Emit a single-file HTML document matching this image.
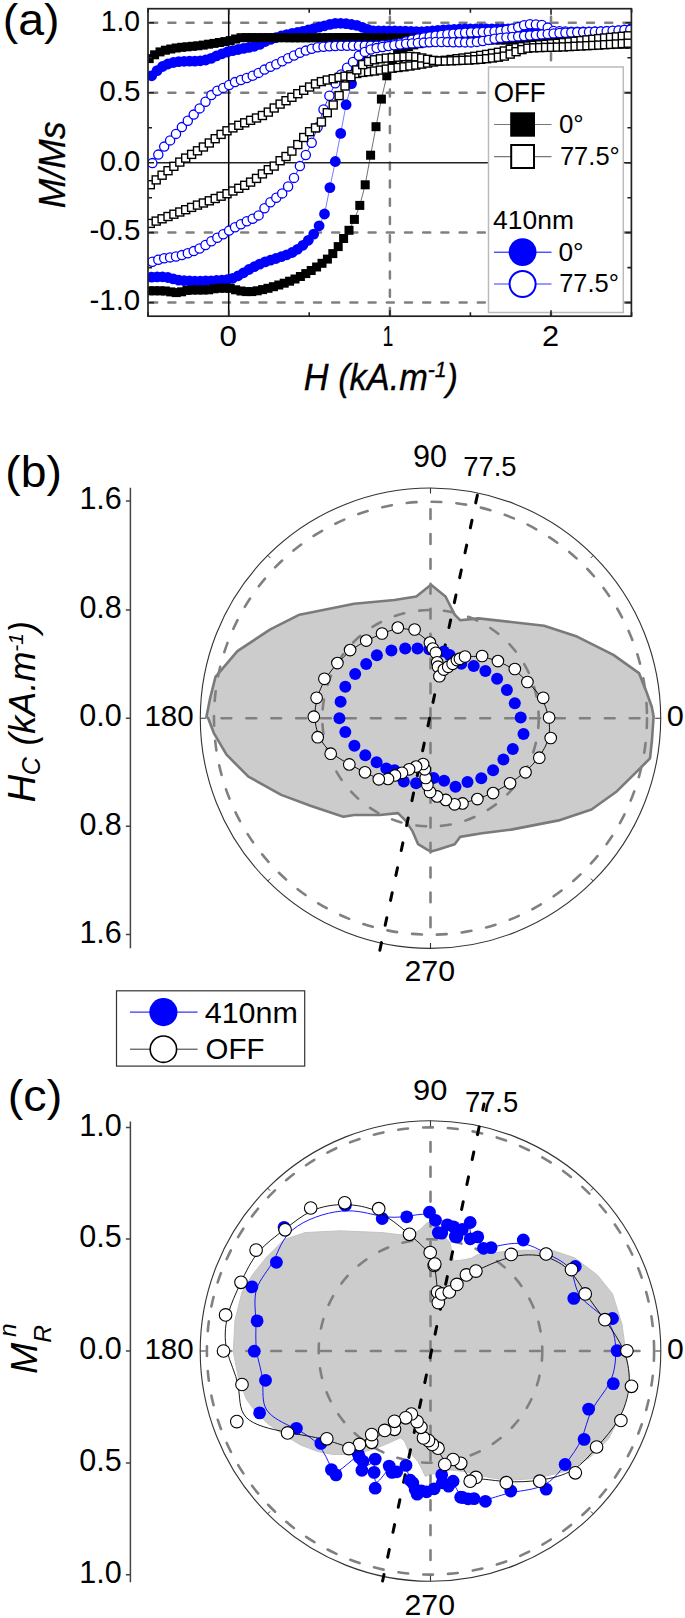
<!DOCTYPE html>
<html><head><meta charset="utf-8"><title>Figure</title>
<style>html,body{margin:0;padding:0;background:#fff;width:685px;height:1618px;overflow:hidden}svg{display:block}</style>
</head><body>
<svg width="685" height="1618" viewBox="0 0 685 1618">
<rect x="0" y="0" width="685" height="1618" fill="#fff"/>
<defs><clipPath id="ca"><rect x="148" y="8.7" width="483.4" height="307.5"/></clipPath></defs>
<g stroke="#808080" stroke-width="2.5" stroke-dasharray="7,11.2" stroke-linecap="round" fill="none">
<line x1="150.2" y1="22.8" x2="631.4" y2="22.8"/>
<line x1="150.2" y1="92.7" x2="631.4" y2="92.7"/>
<line x1="150.2" y1="232.6" x2="631.4" y2="232.6"/>
<line x1="150.2" y1="302.6" x2="631.4" y2="302.6"/>
<line x1="389.9" y1="315" x2="389.9" y2="8.7"/>
<line x1="551" y1="315" x2="551" y2="8.7"/>
</g>
<line x1="148" y1="162.7" x2="631.4" y2="162.7" stroke="#222" stroke-width="1.5"/>
<line x1="228.7" y1="8.7" x2="228.7" y2="316.2" stroke="#000" stroke-width="1.5"/>
<g clip-path="url(#ca)">
<polyline points="151.7,75.8 157.1,70.6 162.5,66.5 167.9,64 173.3,62.5 178.7,61.6 184.1,61.3 189.5,61.2 194.9,61.1 200.3,60.8 205.7,60 211.1,58.4 216.5,55.9 221.9,53.8 227.3,52 232.7,50.6 238.1,49.5 243.5,48.4 248.9,47.4 254.3,46.3 259.7,44.4 265.1,41.5 270.5,39.4 275.9,37.6 281.3,36 286.7,34.6 292.1,33.5 297.5,32.5 302.9,31.3 308.3,30 313.7,28.6 319.1,27.2 324.5,25.8 329.9,24.4 335.3,23.4 340.7,23.3 346.1,23.7 351.5,24.5 356.9,25.4 362.3,27.3 367.7,29.4 373.1,30.9 378.5,31 383.9,31 389.3,31 394.7,31 400.1,31.1 405.5,31.2 410.9,31.4 416.3,31.7 421.7,31.9 427.1,32 432.5,32 437.9,32 443.3,32 448.7,32 454.1,32 459.5,32 464.9,32 470.3,32 475.7,31.9 481.1,31.8 486.5,31.6 491.9,31.4 497.3,31.2 502.7,31.1 508.1,31 513.5,31 518.9,31.2 524.3,31.6 529.7,32 535.1,32.6 540.5,33.1 545.9,33.6 551.3,34.1 556.7,34.6 562.1,35.1 567.5,35.7 572.9,36.2 578.3,36.8 583.7,37.4 589.1,37.9 594.5,38.4 599.9,39 605.3,39.5 610.7,40 616.1,40.5 621.5,41.1 626.9,41.6" fill="none" stroke="#4040ff" stroke-width="0.7" />
<polyline points="151.7,277.2 157.1,276.9 162.5,276.8 167.9,277.5 173.3,278.9 178.7,280.2 184.1,280.6 189.5,281 194.9,281.2 200.3,281.2 205.7,281 211.1,280.8 216.5,280.5 221.9,280.2 227.3,279.6 232.7,278.3 238.1,275.8 243.5,272.8 248.9,269.5 254.3,266.7 259.7,264.1 265.1,261.9 270.5,260.2 275.9,258.5 281.3,256.7 286.7,254.8 292.1,252.5 297.5,249.3 302.9,245.3 308.3,240.3 313.7,234.1 319.1,225.8 324.5,214 329.9,187.6 335.3,161.5 340.7,133.4 346.1,104.7 351.5,83.6 356.9,66.2 362.3,56.3 367.7,49.7 373.1,45.3 378.5,42.5 383.9,40.4 389.3,38.6 394.7,37.2 400.1,36 405.5,34.9 410.9,33.8 416.3,32.8 421.7,31.9 427.1,31.3 432.5,30.8 437.9,30.4 443.3,30 448.7,29.7 454.1,29.4 459.5,29.2 464.9,29 470.3,29 475.7,29 481.1,29 486.5,29 491.9,29 497.3,29 502.7,29 508.1,29 513.5,29.1 518.9,29.5 524.3,30.1 529.7,30.9 535.1,31.7 540.5,32.6 545.9,33.5 551.3,34.2 556.7,34.8 562.1,35.4 567.5,36.1 572.9,36.7 578.3,37.3 583.7,37.9 589.1,38.4 594.5,38.9 599.9,39.4 605.3,39.9 610.7,40.4 616.1,40.8 621.5,41.3 626.9,41.7" fill="none" stroke="#4040ff" stroke-width="0.7" />
<g fill="#0000ff"><circle cx="151.7" cy="75.8" r="5.4"/><circle cx="157.1" cy="70.6" r="5.4"/><circle cx="162.5" cy="66.5" r="5.4"/><circle cx="167.9" cy="64" r="5.4"/><circle cx="173.3" cy="62.5" r="5.4"/><circle cx="178.7" cy="61.6" r="5.4"/><circle cx="184.1" cy="61.3" r="5.4"/><circle cx="189.5" cy="61.2" r="5.4"/><circle cx="194.9" cy="61.1" r="5.4"/><circle cx="200.3" cy="60.8" r="5.4"/><circle cx="205.7" cy="60" r="5.4"/><circle cx="211.1" cy="58.4" r="5.4"/><circle cx="216.5" cy="55.9" r="5.4"/><circle cx="221.9" cy="53.8" r="5.4"/><circle cx="227.3" cy="52" r="5.4"/><circle cx="232.7" cy="50.6" r="5.4"/><circle cx="238.1" cy="49.5" r="5.4"/><circle cx="243.5" cy="48.4" r="5.4"/><circle cx="248.9" cy="47.4" r="5.4"/><circle cx="254.3" cy="46.3" r="5.4"/><circle cx="259.7" cy="44.4" r="5.4"/><circle cx="265.1" cy="41.5" r="5.4"/><circle cx="270.5" cy="39.4" r="5.4"/><circle cx="275.9" cy="37.6" r="5.4"/><circle cx="281.3" cy="36" r="5.4"/><circle cx="286.7" cy="34.6" r="5.4"/><circle cx="292.1" cy="33.5" r="5.4"/><circle cx="297.5" cy="32.5" r="5.4"/><circle cx="302.9" cy="31.3" r="5.4"/><circle cx="308.3" cy="30" r="5.4"/><circle cx="313.7" cy="28.6" r="5.4"/><circle cx="319.1" cy="27.2" r="5.4"/><circle cx="324.5" cy="25.8" r="5.4"/><circle cx="329.9" cy="24.4" r="5.4"/><circle cx="335.3" cy="23.4" r="5.4"/><circle cx="340.7" cy="23.3" r="5.4"/><circle cx="346.1" cy="23.7" r="5.4"/><circle cx="351.5" cy="24.5" r="5.4"/><circle cx="356.9" cy="25.4" r="5.4"/><circle cx="362.3" cy="27.3" r="5.4"/><circle cx="367.7" cy="29.4" r="5.4"/><circle cx="373.1" cy="30.9" r="5.4"/><circle cx="378.5" cy="31" r="5.4"/><circle cx="383.9" cy="31" r="5.4"/><circle cx="389.3" cy="31" r="5.4"/><circle cx="394.7" cy="31" r="5.4"/><circle cx="400.1" cy="31.1" r="5.4"/><circle cx="405.5" cy="31.2" r="5.4"/><circle cx="410.9" cy="31.4" r="5.4"/><circle cx="416.3" cy="31.7" r="5.4"/><circle cx="421.7" cy="31.9" r="5.4"/><circle cx="427.1" cy="32" r="5.4"/><circle cx="432.5" cy="32" r="5.4"/><circle cx="437.9" cy="32" r="5.4"/><circle cx="443.3" cy="32" r="5.4"/><circle cx="448.7" cy="32" r="5.4"/><circle cx="454.1" cy="32" r="5.4"/><circle cx="459.5" cy="32" r="5.4"/><circle cx="464.9" cy="32" r="5.4"/><circle cx="470.3" cy="32" r="5.4"/><circle cx="475.7" cy="31.9" r="5.4"/><circle cx="481.1" cy="31.8" r="5.4"/><circle cx="486.5" cy="31.6" r="5.4"/><circle cx="491.9" cy="31.4" r="5.4"/><circle cx="497.3" cy="31.2" r="5.4"/><circle cx="502.7" cy="31.1" r="5.4"/><circle cx="508.1" cy="31" r="5.4"/><circle cx="513.5" cy="31" r="5.4"/><circle cx="518.9" cy="31.2" r="5.4"/><circle cx="524.3" cy="31.6" r="5.4"/><circle cx="529.7" cy="32" r="5.4"/><circle cx="535.1" cy="32.6" r="5.4"/><circle cx="540.5" cy="33.1" r="5.4"/><circle cx="545.9" cy="33.6" r="5.4"/><circle cx="551.3" cy="34.1" r="5.4"/><circle cx="556.7" cy="34.6" r="5.4"/><circle cx="562.1" cy="35.1" r="5.4"/><circle cx="567.5" cy="35.7" r="5.4"/><circle cx="572.9" cy="36.2" r="5.4"/><circle cx="578.3" cy="36.8" r="5.4"/><circle cx="583.7" cy="37.4" r="5.4"/><circle cx="589.1" cy="37.9" r="5.4"/><circle cx="594.5" cy="38.4" r="5.4"/><circle cx="599.9" cy="39" r="5.4"/><circle cx="605.3" cy="39.5" r="5.4"/><circle cx="610.7" cy="40" r="5.4"/><circle cx="616.1" cy="40.5" r="5.4"/><circle cx="621.5" cy="41.1" r="5.4"/><circle cx="626.9" cy="41.6" r="5.4"/><circle cx="151.7" cy="277.2" r="5.4"/><circle cx="157.1" cy="276.9" r="5.4"/><circle cx="162.5" cy="276.8" r="5.4"/><circle cx="167.9" cy="277.5" r="5.4"/><circle cx="173.3" cy="278.9" r="5.4"/><circle cx="178.7" cy="280.2" r="5.4"/><circle cx="184.1" cy="280.6" r="5.4"/><circle cx="189.5" cy="281" r="5.4"/><circle cx="194.9" cy="281.2" r="5.4"/><circle cx="200.3" cy="281.2" r="5.4"/><circle cx="205.7" cy="281" r="5.4"/><circle cx="211.1" cy="280.8" r="5.4"/><circle cx="216.5" cy="280.5" r="5.4"/><circle cx="221.9" cy="280.2" r="5.4"/><circle cx="227.3" cy="279.6" r="5.4"/><circle cx="232.7" cy="278.3" r="5.4"/><circle cx="238.1" cy="275.8" r="5.4"/><circle cx="243.5" cy="272.8" r="5.4"/><circle cx="248.9" cy="269.5" r="5.4"/><circle cx="254.3" cy="266.7" r="5.4"/><circle cx="259.7" cy="264.1" r="5.4"/><circle cx="265.1" cy="261.9" r="5.4"/><circle cx="270.5" cy="260.2" r="5.4"/><circle cx="275.9" cy="258.5" r="5.4"/><circle cx="281.3" cy="256.7" r="5.4"/><circle cx="286.7" cy="254.8" r="5.4"/><circle cx="292.1" cy="252.5" r="5.4"/><circle cx="297.5" cy="249.3" r="5.4"/><circle cx="302.9" cy="245.3" r="5.4"/><circle cx="308.3" cy="240.3" r="5.4"/><circle cx="313.7" cy="234.1" r="5.4"/><circle cx="319.1" cy="225.8" r="5.4"/><circle cx="324.5" cy="214" r="5.4"/><circle cx="329.9" cy="187.6" r="5.4"/><circle cx="335.3" cy="161.5" r="5.4"/><circle cx="340.7" cy="133.4" r="5.4"/><circle cx="346.1" cy="104.7" r="5.4"/><circle cx="351.5" cy="83.6" r="5.4"/><circle cx="356.9" cy="66.2" r="5.4"/><circle cx="362.3" cy="56.3" r="5.4"/><circle cx="367.7" cy="49.7" r="5.4"/><circle cx="373.1" cy="45.3" r="5.4"/><circle cx="378.5" cy="42.5" r="5.4"/><circle cx="383.9" cy="40.4" r="5.4"/><circle cx="389.3" cy="38.6" r="5.4"/><circle cx="394.7" cy="37.2" r="5.4"/><circle cx="400.1" cy="36" r="5.4"/><circle cx="405.5" cy="34.9" r="5.4"/><circle cx="410.9" cy="33.8" r="5.4"/><circle cx="416.3" cy="32.8" r="5.4"/><circle cx="421.7" cy="31.9" r="5.4"/><circle cx="427.1" cy="31.3" r="5.4"/><circle cx="432.5" cy="30.8" r="5.4"/><circle cx="437.9" cy="30.4" r="5.4"/><circle cx="443.3" cy="30" r="5.4"/><circle cx="448.7" cy="29.7" r="5.4"/><circle cx="454.1" cy="29.4" r="5.4"/><circle cx="459.5" cy="29.2" r="5.4"/><circle cx="464.9" cy="29" r="5.4"/><circle cx="470.3" cy="29" r="5.4"/><circle cx="475.7" cy="29" r="5.4"/><circle cx="481.1" cy="29" r="5.4"/><circle cx="486.5" cy="29" r="5.4"/><circle cx="491.9" cy="29" r="5.4"/><circle cx="497.3" cy="29" r="5.4"/><circle cx="502.7" cy="29" r="5.4"/><circle cx="508.1" cy="29" r="5.4"/><circle cx="513.5" cy="29.1" r="5.4"/><circle cx="518.9" cy="29.5" r="5.4"/><circle cx="524.3" cy="30.1" r="5.4"/><circle cx="529.7" cy="30.9" r="5.4"/><circle cx="535.1" cy="31.7" r="5.4"/><circle cx="540.5" cy="32.6" r="5.4"/><circle cx="545.9" cy="33.5" r="5.4"/><circle cx="551.3" cy="34.2" r="5.4"/><circle cx="556.7" cy="34.8" r="5.4"/><circle cx="562.1" cy="35.4" r="5.4"/><circle cx="567.5" cy="36.1" r="5.4"/><circle cx="572.9" cy="36.7" r="5.4"/><circle cx="578.3" cy="37.3" r="5.4"/><circle cx="583.7" cy="37.9" r="5.4"/><circle cx="589.1" cy="38.4" r="5.4"/><circle cx="594.5" cy="38.9" r="5.4"/><circle cx="599.9" cy="39.4" r="5.4"/><circle cx="605.3" cy="39.9" r="5.4"/><circle cx="610.7" cy="40.4" r="5.4"/><circle cx="616.1" cy="40.8" r="5.4"/><circle cx="621.5" cy="41.3" r="5.4"/><circle cx="626.9" cy="41.7" r="5.4"/></g>
<polyline points="149.2,58.6 154.6,54.8 160,51.9 165.4,50.2 170.8,49 176.2,48 181.6,47.3 187,46.8 192.4,46.3 197.8,45.8 203.2,45.1 208.6,44.2 214,43.4 219.4,42.5 224.8,41.6 230.2,40.6 235.6,39 241,37.7 246.4,37.6 251.8,37.6 257.2,37.6 262.6,37.6 268,37.6 273.4,37.7 278.8,37.7 284.2,37.7 289.6,37.8 295,37.8 300.4,37.8 305.8,37.8 311.2,37.8 316.6,37.7 322,37.7 327.4,37.6 332.8,37.6 338.2,37.5 343.6,37.5 349,37.5 354.4,37.5 359.8,37.6 365.2,37.6 370.6,37.7 376,37.8 381.4,37.8 386.8,37.9 392.2,38 397.6,38 403,38 408.4,38 413.8,38 419.2,38 424.6,38 430,38 435.4,38 440.8,38 446.2,38 451.6,38 457,38 462.4,38 467.8,38 473.2,38 478.6,38 484,38 489.4,38 494.8,38 500.2,38 505.6,38 511,38.2 516.4,38.3 521.8,38.6 527.2,38.8 532.6,39.1 538,39.4 543.4,39.7 548.8,39.9 554.2,40.2 559.6,40.5 565,40.9 570.4,41.2 575.8,41.6 581.2,42 586.6,42.3 592,42.6 597.4,42.9 602.8,43.1 608.2,43.3 613.6,43.5 619,43.7 624.4,43.8 629.8,44" fill="none" stroke="#333" stroke-width="0.7" />
<polyline points="149.2,290.8 154.6,290.8 160,290.8 165.4,291 170.8,291.9 176.2,292.6 181.6,291.8 187,290.4 192.4,290 197.8,290 203.2,290 208.6,289.8 214,288.8 219.4,288.2 224.8,288.2 230.2,288.3 235.6,289.8 241,291 246.4,291.6 251.8,291.6 257.2,290.8 262.6,289.6 268,288.3 273.4,286.7 278.8,285 284.2,283.2 289.6,281.2 295,279 300.4,276.5 305.8,273.6 311.2,270.5 316.6,267 322,263.3 327.4,259.1 332.8,253.6 338.2,246.6 343.6,238.5 349,230.3 354.4,219.4 359.8,205.4 365.2,184.8 370.6,155.2 376,126.7 381.4,99.1 386.8,75.8 392.2,59.6 397.6,52.3 403,48.8 408.4,46.5 413.8,44.9 419.2,43.7 424.6,42.7 430,42 435.4,41.5 440.8,41 446.2,40.5 451.6,40.2 457,40 462.4,40 467.8,40 473.2,40 478.6,40 484,40 489.4,40 494.8,40 500.2,40 505.6,40 511,40.1 516.4,40.1 521.8,40.3 527.2,40.4 532.6,40.5 538,40.7 543.4,40.8 548.8,41 554.2,41.1 559.6,41.4 565,41.7 570.4,42 575.8,42.3 581.2,42.7 586.6,43 592,43.2 597.4,43.4 602.8,43.6 608.2,43.7 613.6,43.8 619,43.9 624.4,44 629.8,44" fill="none" stroke="#333" stroke-width="0.7" />
<g fill="#000"><rect x="144.7" y="54.1" width="9" height="9"/><rect x="150.1" y="50.3" width="9" height="9"/><rect x="155.5" y="47.4" width="9" height="9"/><rect x="160.9" y="45.7" width="9" height="9"/><rect x="166.3" y="44.5" width="9" height="9"/><rect x="171.7" y="43.5" width="9" height="9"/><rect x="177.1" y="42.8" width="9" height="9"/><rect x="182.5" y="42.3" width="9" height="9"/><rect x="187.9" y="41.8" width="9" height="9"/><rect x="193.3" y="41.3" width="9" height="9"/><rect x="198.7" y="40.6" width="9" height="9"/><rect x="204.1" y="39.7" width="9" height="9"/><rect x="209.5" y="38.9" width="9" height="9"/><rect x="214.9" y="38" width="9" height="9"/><rect x="220.3" y="37.1" width="9" height="9"/><rect x="225.7" y="36.1" width="9" height="9"/><rect x="231.1" y="34.5" width="9" height="9"/><rect x="236.5" y="33.2" width="9" height="9"/><rect x="241.9" y="33.1" width="9" height="9"/><rect x="247.3" y="33.1" width="9" height="9"/><rect x="252.7" y="33.1" width="9" height="9"/><rect x="258.1" y="33.1" width="9" height="9"/><rect x="263.5" y="33.1" width="9" height="9"/><rect x="268.9" y="33.2" width="9" height="9"/><rect x="274.3" y="33.2" width="9" height="9"/><rect x="279.7" y="33.2" width="9" height="9"/><rect x="285.1" y="33.3" width="9" height="9"/><rect x="290.5" y="33.3" width="9" height="9"/><rect x="295.9" y="33.3" width="9" height="9"/><rect x="301.3" y="33.3" width="9" height="9"/><rect x="306.7" y="33.3" width="9" height="9"/><rect x="312.1" y="33.2" width="9" height="9"/><rect x="317.5" y="33.2" width="9" height="9"/><rect x="322.9" y="33.1" width="9" height="9"/><rect x="328.3" y="33.1" width="9" height="9"/><rect x="333.7" y="33" width="9" height="9"/><rect x="339.1" y="33" width="9" height="9"/><rect x="344.5" y="33" width="9" height="9"/><rect x="349.9" y="33" width="9" height="9"/><rect x="355.3" y="33.1" width="9" height="9"/><rect x="360.7" y="33.1" width="9" height="9"/><rect x="366.1" y="33.2" width="9" height="9"/><rect x="371.5" y="33.3" width="9" height="9"/><rect x="376.9" y="33.3" width="9" height="9"/><rect x="382.3" y="33.4" width="9" height="9"/><rect x="387.7" y="33.5" width="9" height="9"/><rect x="393.1" y="33.5" width="9" height="9"/><rect x="398.5" y="33.5" width="9" height="9"/><rect x="403.9" y="33.5" width="9" height="9"/><rect x="409.3" y="33.5" width="9" height="9"/><rect x="414.7" y="33.5" width="9" height="9"/><rect x="420.1" y="33.5" width="9" height="9"/><rect x="425.5" y="33.5" width="9" height="9"/><rect x="430.9" y="33.5" width="9" height="9"/><rect x="436.3" y="33.5" width="9" height="9"/><rect x="441.7" y="33.5" width="9" height="9"/><rect x="447.1" y="33.5" width="9" height="9"/><rect x="452.5" y="33.5" width="9" height="9"/><rect x="457.9" y="33.5" width="9" height="9"/><rect x="463.3" y="33.5" width="9" height="9"/><rect x="468.7" y="33.5" width="9" height="9"/><rect x="474.1" y="33.5" width="9" height="9"/><rect x="479.5" y="33.5" width="9" height="9"/><rect x="484.9" y="33.5" width="9" height="9"/><rect x="490.3" y="33.5" width="9" height="9"/><rect x="495.7" y="33.5" width="9" height="9"/><rect x="501.1" y="33.5" width="9" height="9"/><rect x="506.5" y="33.7" width="9" height="9"/><rect x="511.9" y="33.8" width="9" height="9"/><rect x="517.3" y="34.1" width="9" height="9"/><rect x="522.7" y="34.3" width="9" height="9"/><rect x="528.1" y="34.6" width="9" height="9"/><rect x="533.5" y="34.9" width="9" height="9"/><rect x="538.9" y="35.2" width="9" height="9"/><rect x="544.3" y="35.4" width="9" height="9"/><rect x="549.7" y="35.7" width="9" height="9"/><rect x="555.1" y="36" width="9" height="9"/><rect x="560.5" y="36.4" width="9" height="9"/><rect x="565.9" y="36.7" width="9" height="9"/><rect x="571.3" y="37.1" width="9" height="9"/><rect x="576.7" y="37.5" width="9" height="9"/><rect x="582.1" y="37.8" width="9" height="9"/><rect x="587.5" y="38.1" width="9" height="9"/><rect x="592.9" y="38.4" width="9" height="9"/><rect x="598.3" y="38.6" width="9" height="9"/><rect x="603.7" y="38.8" width="9" height="9"/><rect x="609.1" y="39" width="9" height="9"/><rect x="614.5" y="39.2" width="9" height="9"/><rect x="619.9" y="39.3" width="9" height="9"/><rect x="625.3" y="39.5" width="9" height="9"/><rect x="144.7" y="286.3" width="9" height="9"/><rect x="150.1" y="286.3" width="9" height="9"/><rect x="155.5" y="286.3" width="9" height="9"/><rect x="160.9" y="286.5" width="9" height="9"/><rect x="166.3" y="287.4" width="9" height="9"/><rect x="171.7" y="288.1" width="9" height="9"/><rect x="177.1" y="287.3" width="9" height="9"/><rect x="182.5" y="285.9" width="9" height="9"/><rect x="187.9" y="285.5" width="9" height="9"/><rect x="193.3" y="285.5" width="9" height="9"/><rect x="198.7" y="285.5" width="9" height="9"/><rect x="204.1" y="285.3" width="9" height="9"/><rect x="209.5" y="284.3" width="9" height="9"/><rect x="214.9" y="283.7" width="9" height="9"/><rect x="220.3" y="283.7" width="9" height="9"/><rect x="225.7" y="283.8" width="9" height="9"/><rect x="231.1" y="285.3" width="9" height="9"/><rect x="236.5" y="286.5" width="9" height="9"/><rect x="241.9" y="287.1" width="9" height="9"/><rect x="247.3" y="287.1" width="9" height="9"/><rect x="252.7" y="286.3" width="9" height="9"/><rect x="258.1" y="285.1" width="9" height="9"/><rect x="263.5" y="283.8" width="9" height="9"/><rect x="268.9" y="282.2" width="9" height="9"/><rect x="274.3" y="280.5" width="9" height="9"/><rect x="279.7" y="278.7" width="9" height="9"/><rect x="285.1" y="276.7" width="9" height="9"/><rect x="290.5" y="274.5" width="9" height="9"/><rect x="295.9" y="272" width="9" height="9"/><rect x="301.3" y="269.1" width="9" height="9"/><rect x="306.7" y="266" width="9" height="9"/><rect x="312.1" y="262.5" width="9" height="9"/><rect x="317.5" y="258.8" width="9" height="9"/><rect x="322.9" y="254.6" width="9" height="9"/><rect x="328.3" y="249.1" width="9" height="9"/><rect x="333.7" y="242.1" width="9" height="9"/><rect x="339.1" y="234" width="9" height="9"/><rect x="344.5" y="225.8" width="9" height="9"/><rect x="349.9" y="214.9" width="9" height="9"/><rect x="355.3" y="200.9" width="9" height="9"/><rect x="360.7" y="180.3" width="9" height="9"/><rect x="366.1" y="150.7" width="9" height="9"/><rect x="371.5" y="122.2" width="9" height="9"/><rect x="376.9" y="94.6" width="9" height="9"/><rect x="382.3" y="71.3" width="9" height="9"/><rect x="387.7" y="55.1" width="9" height="9"/><rect x="393.1" y="47.8" width="9" height="9"/><rect x="398.5" y="44.3" width="9" height="9"/><rect x="403.9" y="42" width="9" height="9"/><rect x="409.3" y="40.4" width="9" height="9"/><rect x="414.7" y="39.2" width="9" height="9"/><rect x="420.1" y="38.2" width="9" height="9"/><rect x="425.5" y="37.5" width="9" height="9"/><rect x="430.9" y="37" width="9" height="9"/><rect x="436.3" y="36.5" width="9" height="9"/><rect x="441.7" y="36" width="9" height="9"/><rect x="447.1" y="35.7" width="9" height="9"/><rect x="452.5" y="35.5" width="9" height="9"/><rect x="457.9" y="35.5" width="9" height="9"/><rect x="463.3" y="35.5" width="9" height="9"/><rect x="468.7" y="35.5" width="9" height="9"/><rect x="474.1" y="35.5" width="9" height="9"/><rect x="479.5" y="35.5" width="9" height="9"/><rect x="484.9" y="35.5" width="9" height="9"/><rect x="490.3" y="35.5" width="9" height="9"/><rect x="495.7" y="35.5" width="9" height="9"/><rect x="501.1" y="35.5" width="9" height="9"/><rect x="506.5" y="35.6" width="9" height="9"/><rect x="511.9" y="35.6" width="9" height="9"/><rect x="517.3" y="35.8" width="9" height="9"/><rect x="522.7" y="35.9" width="9" height="9"/><rect x="528.1" y="36" width="9" height="9"/><rect x="533.5" y="36.2" width="9" height="9"/><rect x="538.9" y="36.3" width="9" height="9"/><rect x="544.3" y="36.5" width="9" height="9"/><rect x="549.7" y="36.6" width="9" height="9"/><rect x="555.1" y="36.9" width="9" height="9"/><rect x="560.5" y="37.2" width="9" height="9"/><rect x="565.9" y="37.5" width="9" height="9"/><rect x="571.3" y="37.8" width="9" height="9"/><rect x="576.7" y="38.2" width="9" height="9"/><rect x="582.1" y="38.5" width="9" height="9"/><rect x="587.5" y="38.7" width="9" height="9"/><rect x="592.9" y="38.9" width="9" height="9"/><rect x="598.3" y="39.1" width="9" height="9"/><rect x="603.7" y="39.2" width="9" height="9"/><rect x="609.1" y="39.3" width="9" height="9"/><rect x="614.5" y="39.4" width="9" height="9"/><rect x="619.9" y="39.5" width="9" height="9"/><rect x="625.3" y="39.5" width="9" height="9"/></g>
<polyline points="152.4,163.1 158.3,154.6 164.2,146.6 170.1,140.4 176,133.9 181.9,127.1 187.8,120.7 193.7,114.6 199.6,108.4 205.5,101.7 211.4,95.1 217.3,90.7 223.2,87.9 229.1,85 235,82.1 240.9,80 246.8,78 252.7,75.7 258.6,72.9 264.5,69.6 270.4,66.8 276.3,64.2 282.2,61.3 288.1,58.3 294,55.5 299.9,52.8 305.8,50.6 311.7,48.7 317.6,47.3 323.5,46.7 329.4,46.3 335.3,46 341.2,45.8 347.1,45.8 353,45.8 358.9,45.8 364.8,45.8 370.7,45.8 376.6,45.6 382.5,45.2 388.4,44.8 394.3,44.2 400.2,42.9 406.1,41.4 412,39.8 417.9,38.4 423.8,37.4 429.7,36.5 435.6,35.6 441.5,34.9 447.4,34.2 453.3,33.6 459.2,33.1 465.1,32.7 471,32.4 476.9,32.2 482.8,32 488.7,31.7 494.6,31.4 500.5,31 506.4,30 512.3,28.6 518.2,27.1 524.1,25.2 530,24.2 535.9,24.4 541.8,25 547.7,27.6 553.6,30.9 559.5,31.3 565.4,31.5 571.3,31.7 577.2,31.8 583.1,31.8 589,31.7 594.9,31.6 600.8,31.4 606.7,31.1 612.6,30.9 618.5,30.4 624.4,29.8 630.3,29.1" fill="none" stroke="#0000ff" stroke-width="0.8" />
<polyline points="152.4,261.7 158.3,259.8 164.2,258.2 170.1,257.4 176,256.5 181.9,255.1 187.8,253.3 193.7,251.1 199.6,248.5 205.5,245 211.4,241.3 217.3,237.8 223.2,234.2 229.1,230.6 235,227.2 240.9,224.2 246.8,221.3 252.7,218.8 258.6,215.4 264.5,208.2 270.4,202.3 276.3,197.7 282.2,193.4 288.1,186.5 294,177.9 299.9,166.1 305.8,155 311.7,142.7 317.6,127.3 323.5,109.5 329.4,95.8 335.3,83.3 341.2,74.5 347.1,67.8 353,62 358.9,55.7 364.8,51.9 370.7,49.5 376.6,48.1 382.5,47 388.4,46.1 394.3,45.2 400.2,44.5 406.1,43.8 412,43.4 417.9,42.9 423.8,42.6 429.7,42.2 435.6,42 441.5,42 447.4,42.1 453.3,42.2 459.2,42.3 465.1,42.4 471,42.4 476.9,41.9 482.8,41 488.7,39.9 494.6,38.8 500.5,37.9 506.4,37.4 512.3,36.9 518.2,36.4 524.1,36 530,35.5 535.9,35 541.8,34.4 547.7,33.9 553.6,33.4 559.5,33 565.4,32.7 571.3,32.5 577.2,32.3 583.1,32.1 589,31.9 594.9,31.7 600.8,31.5 606.7,31.2 612.6,30.8 618.5,30.4 624.4,30 630.3,29.6" fill="none" stroke="#0000ff" stroke-width="0.8" />
<g fill="#fff" stroke="#0000ff" stroke-width="1.3"><circle cx="152.4" cy="163.1" r="4.6"/><circle cx="158.3" cy="154.6" r="4.6"/><circle cx="164.2" cy="146.6" r="4.6"/><circle cx="170.1" cy="140.4" r="4.6"/><circle cx="176" cy="133.9" r="4.6"/><circle cx="181.9" cy="127.1" r="4.6"/><circle cx="187.8" cy="120.7" r="4.6"/><circle cx="193.7" cy="114.6" r="4.6"/><circle cx="199.6" cy="108.4" r="4.6"/><circle cx="205.5" cy="101.7" r="4.6"/><circle cx="211.4" cy="95.1" r="4.6"/><circle cx="217.3" cy="90.7" r="4.6"/><circle cx="223.2" cy="87.9" r="4.6"/><circle cx="229.1" cy="85" r="4.6"/><circle cx="235" cy="82.1" r="4.6"/><circle cx="240.9" cy="80" r="4.6"/><circle cx="246.8" cy="78" r="4.6"/><circle cx="252.7" cy="75.7" r="4.6"/><circle cx="258.6" cy="72.9" r="4.6"/><circle cx="264.5" cy="69.6" r="4.6"/><circle cx="270.4" cy="66.8" r="4.6"/><circle cx="276.3" cy="64.2" r="4.6"/><circle cx="282.2" cy="61.3" r="4.6"/><circle cx="288.1" cy="58.3" r="4.6"/><circle cx="294" cy="55.5" r="4.6"/><circle cx="299.9" cy="52.8" r="4.6"/><circle cx="305.8" cy="50.6" r="4.6"/><circle cx="311.7" cy="48.7" r="4.6"/><circle cx="317.6" cy="47.3" r="4.6"/><circle cx="323.5" cy="46.7" r="4.6"/><circle cx="329.4" cy="46.3" r="4.6"/><circle cx="335.3" cy="46" r="4.6"/><circle cx="341.2" cy="45.8" r="4.6"/><circle cx="347.1" cy="45.8" r="4.6"/><circle cx="353" cy="45.8" r="4.6"/><circle cx="358.9" cy="45.8" r="4.6"/><circle cx="364.8" cy="45.8" r="4.6"/><circle cx="370.7" cy="45.8" r="4.6"/><circle cx="376.6" cy="45.6" r="4.6"/><circle cx="382.5" cy="45.2" r="4.6"/><circle cx="388.4" cy="44.8" r="4.6"/><circle cx="394.3" cy="44.2" r="4.6"/><circle cx="400.2" cy="42.9" r="4.6"/><circle cx="406.1" cy="41.4" r="4.6"/><circle cx="412" cy="39.8" r="4.6"/><circle cx="417.9" cy="38.4" r="4.6"/><circle cx="423.8" cy="37.4" r="4.6"/><circle cx="429.7" cy="36.5" r="4.6"/><circle cx="435.6" cy="35.6" r="4.6"/><circle cx="441.5" cy="34.9" r="4.6"/><circle cx="447.4" cy="34.2" r="4.6"/><circle cx="453.3" cy="33.6" r="4.6"/><circle cx="459.2" cy="33.1" r="4.6"/><circle cx="465.1" cy="32.7" r="4.6"/><circle cx="471" cy="32.4" r="4.6"/><circle cx="476.9" cy="32.2" r="4.6"/><circle cx="482.8" cy="32" r="4.6"/><circle cx="488.7" cy="31.7" r="4.6"/><circle cx="494.6" cy="31.4" r="4.6"/><circle cx="500.5" cy="31" r="4.6"/><circle cx="506.4" cy="30" r="4.6"/><circle cx="512.3" cy="28.6" r="4.6"/><circle cx="518.2" cy="27.1" r="4.6"/><circle cx="524.1" cy="25.2" r="4.6"/><circle cx="530" cy="24.2" r="4.6"/><circle cx="535.9" cy="24.4" r="4.6"/><circle cx="541.8" cy="25" r="4.6"/><circle cx="547.7" cy="27.6" r="4.6"/><circle cx="553.6" cy="30.9" r="4.6"/><circle cx="559.5" cy="31.3" r="4.6"/><circle cx="565.4" cy="31.5" r="4.6"/><circle cx="571.3" cy="31.7" r="4.6"/><circle cx="577.2" cy="31.8" r="4.6"/><circle cx="583.1" cy="31.8" r="4.6"/><circle cx="589" cy="31.7" r="4.6"/><circle cx="594.9" cy="31.6" r="4.6"/><circle cx="600.8" cy="31.4" r="4.6"/><circle cx="606.7" cy="31.1" r="4.6"/><circle cx="612.6" cy="30.9" r="4.6"/><circle cx="618.5" cy="30.4" r="4.6"/><circle cx="624.4" cy="29.8" r="4.6"/><circle cx="630.3" cy="29.1" r="4.6"/><circle cx="152.4" cy="261.7" r="4.6"/><circle cx="158.3" cy="259.8" r="4.6"/><circle cx="164.2" cy="258.2" r="4.6"/><circle cx="170.1" cy="257.4" r="4.6"/><circle cx="176" cy="256.5" r="4.6"/><circle cx="181.9" cy="255.1" r="4.6"/><circle cx="187.8" cy="253.3" r="4.6"/><circle cx="193.7" cy="251.1" r="4.6"/><circle cx="199.6" cy="248.5" r="4.6"/><circle cx="205.5" cy="245" r="4.6"/><circle cx="211.4" cy="241.3" r="4.6"/><circle cx="217.3" cy="237.8" r="4.6"/><circle cx="223.2" cy="234.2" r="4.6"/><circle cx="229.1" cy="230.6" r="4.6"/><circle cx="235" cy="227.2" r="4.6"/><circle cx="240.9" cy="224.2" r="4.6"/><circle cx="246.8" cy="221.3" r="4.6"/><circle cx="252.7" cy="218.8" r="4.6"/><circle cx="258.6" cy="215.4" r="4.6"/><circle cx="264.5" cy="208.2" r="4.6"/><circle cx="270.4" cy="202.3" r="4.6"/><circle cx="276.3" cy="197.7" r="4.6"/><circle cx="282.2" cy="193.4" r="4.6"/><circle cx="288.1" cy="186.5" r="4.6"/><circle cx="294" cy="177.9" r="4.6"/><circle cx="299.9" cy="166.1" r="4.6"/><circle cx="305.8" cy="155" r="4.6"/><circle cx="311.7" cy="142.7" r="4.6"/><circle cx="317.6" cy="127.3" r="4.6"/><circle cx="323.5" cy="109.5" r="4.6"/><circle cx="329.4" cy="95.8" r="4.6"/><circle cx="335.3" cy="83.3" r="4.6"/><circle cx="341.2" cy="74.5" r="4.6"/><circle cx="347.1" cy="67.8" r="4.6"/><circle cx="353" cy="62" r="4.6"/><circle cx="358.9" cy="55.7" r="4.6"/><circle cx="364.8" cy="51.9" r="4.6"/><circle cx="370.7" cy="49.5" r="4.6"/><circle cx="376.6" cy="48.1" r="4.6"/><circle cx="382.5" cy="47" r="4.6"/><circle cx="388.4" cy="46.1" r="4.6"/><circle cx="394.3" cy="45.2" r="4.6"/><circle cx="400.2" cy="44.5" r="4.6"/><circle cx="406.1" cy="43.8" r="4.6"/><circle cx="412" cy="43.4" r="4.6"/><circle cx="417.9" cy="42.9" r="4.6"/><circle cx="423.8" cy="42.6" r="4.6"/><circle cx="429.7" cy="42.2" r="4.6"/><circle cx="435.6" cy="42" r="4.6"/><circle cx="441.5" cy="42" r="4.6"/><circle cx="447.4" cy="42.1" r="4.6"/><circle cx="453.3" cy="42.2" r="4.6"/><circle cx="459.2" cy="42.3" r="4.6"/><circle cx="465.1" cy="42.4" r="4.6"/><circle cx="471" cy="42.4" r="4.6"/><circle cx="476.9" cy="41.9" r="4.6"/><circle cx="482.8" cy="41" r="4.6"/><circle cx="488.7" cy="39.9" r="4.6"/><circle cx="494.6" cy="38.8" r="4.6"/><circle cx="500.5" cy="37.9" r="4.6"/><circle cx="506.4" cy="37.4" r="4.6"/><circle cx="512.3" cy="36.9" r="4.6"/><circle cx="518.2" cy="36.4" r="4.6"/><circle cx="524.1" cy="36" r="4.6"/><circle cx="530" cy="35.5" r="4.6"/><circle cx="535.9" cy="35" r="4.6"/><circle cx="541.8" cy="34.4" r="4.6"/><circle cx="547.7" cy="33.9" r="4.6"/><circle cx="553.6" cy="33.4" r="4.6"/><circle cx="559.5" cy="33" r="4.6"/><circle cx="565.4" cy="32.7" r="4.6"/><circle cx="571.3" cy="32.5" r="4.6"/><circle cx="577.2" cy="32.3" r="4.6"/><circle cx="583.1" cy="32.1" r="4.6"/><circle cx="589" cy="31.9" r="4.6"/><circle cx="594.9" cy="31.7" r="4.6"/><circle cx="600.8" cy="31.5" r="4.6"/><circle cx="606.7" cy="31.2" r="4.6"/><circle cx="612.6" cy="30.8" r="4.6"/><circle cx="618.5" cy="30.4" r="4.6"/><circle cx="624.4" cy="30" r="4.6"/><circle cx="630.3" cy="29.6" r="4.6"/></g>
<polyline points="150.3,184.7 156.2,179.9 162.1,175.2 168,170.7 173.9,166.3 179.8,162.1 185.7,158.1 191.6,154.4 197.5,150.8 203.4,147 209.3,143 215.2,138.7 221.1,134.4 227,130.8 232.9,127.9 238.8,125.3 244.7,122.8 250.6,120.3 256.5,118 262.4,115.5 268.3,112.1 274.2,108 280.1,104.1 286,100.7 291.9,97.3 297.8,93.7 303.7,90.3 309.6,87 315.5,83.9 321.4,81.6 327.3,80 333.2,78.7 339.1,77.4 345,76.2 350.9,74.9 356.8,73.5 362.7,72.4 368.6,71.7 374.5,71 380.4,70.1 386.3,69.1 392.2,68.2 398.1,67.5 404,66.8 409.9,66 415.8,65.1 421.7,64.1 427.6,63.1 433.5,62 439.4,61.1 445.3,60.3 451.2,59.5 457.1,58.7 463,58 468.9,57.2 474.8,56.3 480.7,55.4 486.6,54.4 492.5,53.4 498.4,52.3 504.3,51 510.2,49.3 516.1,47.8 522,46.7 527.9,46 533.8,45.3 539.7,44.8 545.6,44.3 551.5,43.8 557.4,43.3 563.3,42.6 569.2,42 575.1,41.3 581,40.6 586.9,39.9 592.8,39.3 598.7,38.6 604.6,38 610.5,37.4 616.4,36.9 622.3,36.3 628.2,35.8" fill="none" stroke="#000" stroke-width="0.8" />
<polyline points="150.3,223.4 156.2,221.1 162.1,218.8 168,216.5 173.9,214.2 179.8,212 185.7,209.7 191.6,207.4 197.5,205.1 203.4,203 209.3,200.8 215.2,198.5 221.1,196.2 227,193.7 232.9,191 238.8,188.3 244.7,185.3 250.6,182.1 256.5,178.4 262.4,173.9 268.3,169.7 274.2,166.1 280.1,160.7 286,156.5 291.9,151.1 297.8,144.6 303.7,137.5 309.6,131.7 315.5,127.9 321.4,122 327.3,112.7 333.2,105 339.1,95.6 345,86 350.9,76.7 356.8,69.9 362.7,64.6 368.6,61.5 374.5,59.8 380.4,58.8 386.3,58.1 392.2,57.7 398.1,57.2 404,56.7 409.9,56.4 415.8,56.8 421.7,58 427.6,59.3 433.5,60.4 439.4,61 445.3,61 451.2,60.8 457.1,60.6 463,60.3 468.9,60.1 474.8,59.7 480.7,59.3 486.6,58.7 492.5,58 498.4,57.2 504.3,56.1 510.2,54.1 516.1,51.7 522,49.6 527.9,48.2 533.8,47.8 539.7,47.6 545.6,47.4 551.5,47.3 557.4,47.1 563.3,46.9 569.2,46.6 575.1,46.3 581,46 586.9,45.7 592.8,45.4 598.7,45.1 604.6,44.7 610.5,44.4 616.4,44 622.3,43.6 628.2,43.2" fill="none" stroke="#000" stroke-width="0.8" />
<g fill="#fff" stroke="#000" stroke-width="1.4"><rect x="146.3" y="180.7" width="8" height="8"/><rect x="152.2" y="175.9" width="8" height="8"/><rect x="158.1" y="171.2" width="8" height="8"/><rect x="164" y="166.7" width="8" height="8"/><rect x="169.9" y="162.3" width="8" height="8"/><rect x="175.8" y="158.1" width="8" height="8"/><rect x="181.7" y="154.1" width="8" height="8"/><rect x="187.6" y="150.4" width="8" height="8"/><rect x="193.5" y="146.8" width="8" height="8"/><rect x="199.4" y="143" width="8" height="8"/><rect x="205.3" y="139" width="8" height="8"/><rect x="211.2" y="134.7" width="8" height="8"/><rect x="217.1" y="130.4" width="8" height="8"/><rect x="223" y="126.8" width="8" height="8"/><rect x="228.9" y="123.9" width="8" height="8"/><rect x="234.8" y="121.3" width="8" height="8"/><rect x="240.7" y="118.8" width="8" height="8"/><rect x="246.6" y="116.3" width="8" height="8"/><rect x="252.5" y="114" width="8" height="8"/><rect x="258.4" y="111.5" width="8" height="8"/><rect x="264.3" y="108.1" width="8" height="8"/><rect x="270.2" y="104" width="8" height="8"/><rect x="276.1" y="100.1" width="8" height="8"/><rect x="282" y="96.7" width="8" height="8"/><rect x="287.9" y="93.3" width="8" height="8"/><rect x="293.8" y="89.7" width="8" height="8"/><rect x="299.7" y="86.3" width="8" height="8"/><rect x="305.6" y="83" width="8" height="8"/><rect x="311.5" y="79.9" width="8" height="8"/><rect x="317.4" y="77.6" width="8" height="8"/><rect x="323.3" y="76" width="8" height="8"/><rect x="329.2" y="74.7" width="8" height="8"/><rect x="335.1" y="73.4" width="8" height="8"/><rect x="341" y="72.2" width="8" height="8"/><rect x="346.9" y="70.9" width="8" height="8"/><rect x="352.8" y="69.5" width="8" height="8"/><rect x="358.7" y="68.4" width="8" height="8"/><rect x="364.6" y="67.7" width="8" height="8"/><rect x="370.5" y="67" width="8" height="8"/><rect x="376.4" y="66.1" width="8" height="8"/><rect x="382.3" y="65.1" width="8" height="8"/><rect x="388.2" y="64.2" width="8" height="8"/><rect x="394.1" y="63.5" width="8" height="8"/><rect x="400" y="62.8" width="8" height="8"/><rect x="405.9" y="62" width="8" height="8"/><rect x="411.8" y="61.1" width="8" height="8"/><rect x="417.7" y="60.1" width="8" height="8"/><rect x="423.6" y="59.1" width="8" height="8"/><rect x="429.5" y="58" width="8" height="8"/><rect x="435.4" y="57.1" width="8" height="8"/><rect x="441.3" y="56.3" width="8" height="8"/><rect x="447.2" y="55.5" width="8" height="8"/><rect x="453.1" y="54.7" width="8" height="8"/><rect x="459" y="54" width="8" height="8"/><rect x="464.9" y="53.2" width="8" height="8"/><rect x="470.8" y="52.3" width="8" height="8"/><rect x="476.7" y="51.4" width="8" height="8"/><rect x="482.6" y="50.4" width="8" height="8"/><rect x="488.5" y="49.4" width="8" height="8"/><rect x="494.4" y="48.3" width="8" height="8"/><rect x="500.3" y="47" width="8" height="8"/><rect x="506.2" y="45.3" width="8" height="8"/><rect x="512.1" y="43.8" width="8" height="8"/><rect x="518" y="42.7" width="8" height="8"/><rect x="523.9" y="42" width="8" height="8"/><rect x="529.8" y="41.3" width="8" height="8"/><rect x="535.7" y="40.8" width="8" height="8"/><rect x="541.6" y="40.3" width="8" height="8"/><rect x="547.5" y="39.8" width="8" height="8"/><rect x="553.4" y="39.3" width="8" height="8"/><rect x="559.3" y="38.6" width="8" height="8"/><rect x="565.2" y="38" width="8" height="8"/><rect x="571.1" y="37.3" width="8" height="8"/><rect x="577" y="36.6" width="8" height="8"/><rect x="582.9" y="35.9" width="8" height="8"/><rect x="588.8" y="35.3" width="8" height="8"/><rect x="594.7" y="34.6" width="8" height="8"/><rect x="600.6" y="34" width="8" height="8"/><rect x="606.5" y="33.4" width="8" height="8"/><rect x="612.4" y="32.9" width="8" height="8"/><rect x="618.3" y="32.3" width="8" height="8"/><rect x="624.2" y="31.8" width="8" height="8"/><rect x="146.3" y="219.4" width="8" height="8"/><rect x="152.2" y="217.1" width="8" height="8"/><rect x="158.1" y="214.8" width="8" height="8"/><rect x="164" y="212.5" width="8" height="8"/><rect x="169.9" y="210.2" width="8" height="8"/><rect x="175.8" y="208" width="8" height="8"/><rect x="181.7" y="205.7" width="8" height="8"/><rect x="187.6" y="203.4" width="8" height="8"/><rect x="193.5" y="201.1" width="8" height="8"/><rect x="199.4" y="199" width="8" height="8"/><rect x="205.3" y="196.8" width="8" height="8"/><rect x="211.2" y="194.5" width="8" height="8"/><rect x="217.1" y="192.2" width="8" height="8"/><rect x="223" y="189.7" width="8" height="8"/><rect x="228.9" y="187" width="8" height="8"/><rect x="234.8" y="184.3" width="8" height="8"/><rect x="240.7" y="181.3" width="8" height="8"/><rect x="246.6" y="178.1" width="8" height="8"/><rect x="252.5" y="174.4" width="8" height="8"/><rect x="258.4" y="169.9" width="8" height="8"/><rect x="264.3" y="165.7" width="8" height="8"/><rect x="270.2" y="162.1" width="8" height="8"/><rect x="276.1" y="156.7" width="8" height="8"/><rect x="282" y="152.5" width="8" height="8"/><rect x="287.9" y="147.1" width="8" height="8"/><rect x="293.8" y="140.6" width="8" height="8"/><rect x="299.7" y="133.5" width="8" height="8"/><rect x="305.6" y="127.7" width="8" height="8"/><rect x="311.5" y="123.9" width="8" height="8"/><rect x="317.4" y="118" width="8" height="8"/><rect x="323.3" y="108.7" width="8" height="8"/><rect x="329.2" y="101" width="8" height="8"/><rect x="335.1" y="91.6" width="8" height="8"/><rect x="341" y="82" width="8" height="8"/><rect x="346.9" y="72.7" width="8" height="8"/><rect x="352.8" y="65.9" width="8" height="8"/><rect x="358.7" y="60.6" width="8" height="8"/><rect x="364.6" y="57.5" width="8" height="8"/><rect x="370.5" y="55.8" width="8" height="8"/><rect x="376.4" y="54.8" width="8" height="8"/><rect x="382.3" y="54.1" width="8" height="8"/><rect x="388.2" y="53.7" width="8" height="8"/><rect x="394.1" y="53.2" width="8" height="8"/><rect x="400" y="52.7" width="8" height="8"/><rect x="405.9" y="52.4" width="8" height="8"/><rect x="411.8" y="52.8" width="8" height="8"/><rect x="417.7" y="54" width="8" height="8"/><rect x="423.6" y="55.3" width="8" height="8"/><rect x="429.5" y="56.4" width="8" height="8"/><rect x="435.4" y="57" width="8" height="8"/><rect x="441.3" y="57" width="8" height="8"/><rect x="447.2" y="56.8" width="8" height="8"/><rect x="453.1" y="56.6" width="8" height="8"/><rect x="459" y="56.3" width="8" height="8"/><rect x="464.9" y="56.1" width="8" height="8"/><rect x="470.8" y="55.7" width="8" height="8"/><rect x="476.7" y="55.3" width="8" height="8"/><rect x="482.6" y="54.7" width="8" height="8"/><rect x="488.5" y="54" width="8" height="8"/><rect x="494.4" y="53.2" width="8" height="8"/><rect x="500.3" y="52.1" width="8" height="8"/><rect x="506.2" y="50.1" width="8" height="8"/><rect x="512.1" y="47.7" width="8" height="8"/><rect x="518" y="45.6" width="8" height="8"/><rect x="523.9" y="44.2" width="8" height="8"/><rect x="529.8" y="43.8" width="8" height="8"/><rect x="535.7" y="43.6" width="8" height="8"/><rect x="541.6" y="43.4" width="8" height="8"/><rect x="547.5" y="43.3" width="8" height="8"/><rect x="553.4" y="43.1" width="8" height="8"/><rect x="559.3" y="42.9" width="8" height="8"/><rect x="565.2" y="42.6" width="8" height="8"/><rect x="571.1" y="42.3" width="8" height="8"/><rect x="577" y="42" width="8" height="8"/><rect x="582.9" y="41.7" width="8" height="8"/><rect x="588.8" y="41.4" width="8" height="8"/><rect x="594.7" y="41.1" width="8" height="8"/><rect x="600.6" y="40.7" width="8" height="8"/><rect x="606.5" y="40.4" width="8" height="8"/><rect x="612.4" y="40" width="8" height="8"/><rect x="618.3" y="39.6" width="8" height="8"/><rect x="624.2" y="39.2" width="8" height="8"/></g>
</g>
<rect x="488.5" y="67" width="134.8" height="245.5" fill="#fff" stroke="#bbb" stroke-width="1.5"/>
<g font-family="'Liberation Sans', Arial, sans-serif" fill="#000">
<text x="493.7" y="101.5" font-size="26.86" textLength="52" lengthAdjust="spacingAndGlyphs" >OFF</text>
<text x="493.1" y="229.2" font-size="26.01" textLength="80.8" lengthAdjust="spacingAndGlyphs" >410nm</text>
<text x="558.9" y="133.3" font-size="26.43" textLength="24.8" lengthAdjust="spacingAndGlyphs" >0°</text>
<text x="559.9" y="165.4" font-size="26.43" textLength="59.9" lengthAdjust="spacingAndGlyphs" >77.5°</text>
<text x="558.4" y="260.9" font-size="26.01" textLength="25.2" lengthAdjust="spacingAndGlyphs" >0°</text>
<text x="559.2" y="292.2" font-size="25.44" >77.5°</text>
</g>
<line x1="494" y1="124.5" x2="551.5" y2="124.5" stroke="#777" stroke-width="1.2"/>
<line x1="494" y1="156.7" x2="551.5" y2="156.7" stroke="#777" stroke-width="1.2"/>
<line x1="494" y1="252.2" x2="551.5" y2="252.2" stroke="#0000ff" stroke-width="1"/>
<line x1="494" y1="284" x2="551.5" y2="284" stroke="#0000ff" stroke-width="0.8"/>
<rect x="510.2" y="112.3" width="24.8" height="24.4" fill="#000"/>
<rect x="511.2" y="145" width="22.8" height="23" fill="#fff" stroke="#000" stroke-width="2"/>
<circle cx="522.6" cy="252.2" r="13.9" fill="#0000ff"/>
<circle cx="522.6" cy="284" r="13" fill="#fff" stroke="#0000ff" stroke-width="2"/>
<rect x="148" y="8.7" width="483.4" height="307.5" fill="none" stroke="#222" stroke-width="1.7"/>
<path d="M148,302.6h6M631.4,302.6h-6M148,267.6h4M631.4,267.6h-4M148,232.6h6M631.4,232.6h-6M148,197.7h4M631.4,197.7h-4M148,162.7h6M631.4,162.7h-6M148,127.7h4M631.4,127.7h-4M148,92.7h6M631.4,92.7h-6M148,57.8h4M631.4,57.8h-4M148,22.8h6M631.4,22.8h-6M148.1,316.2v-4M148.1,8.7v4M228.7,316.2v-6M228.7,8.7v6M309.2,316.2v-4M309.2,8.7v4M389.9,316.2v-6M389.9,8.7v6M470.4,316.2v-4M470.4,8.7v4M551,316.2v-6M551,8.7v6M631.6,316.2v-4M631.6,8.7v4" stroke="#222" stroke-width="1.6" fill="none"/>
<g font-family="'Liberation Sans', Arial, sans-serif" fill="#000">
<text x="100.7" y="31" font-size="29.40" textLength="39.4" lengthAdjust="spacingAndGlyphs" >1.0</text>
<text x="99.2" y="100.6" font-size="29.68" >0.5</text>
<text x="99.7" y="170.9" font-size="30.39" textLength="40.7" lengthAdjust="spacingAndGlyphs" >0.0</text>
<text x="89.4" y="239.7" font-size="28.83" textLength="51.1" lengthAdjust="spacingAndGlyphs" >-0.5</text>
<text x="89.4" y="309.7" font-size="29.54" >-1.0</text>
<text x="219.6" y="345.6" font-size="29.68" textLength="17.4" lengthAdjust="spacingAndGlyphs" >0</text>
<text x="382.5" y="345.7" font-size="30.25" textLength="10.9" lengthAdjust="spacingAndGlyphs" >1</text>
<text x="541.9" y="345.7" font-size="29.82" textLength="17.1" lengthAdjust="spacingAndGlyphs" >2</text>
<text x="2.7" y="34.8" font-size="43.97" textLength="56.8" lengthAdjust="spacingAndGlyphs" >(a)</text>
<text transform="translate(64.6,208.3) rotate(-90) scale(1,1.06)" font-size="35.5" font-style="italic" stroke="#000" stroke-width="0.25">M/Ms</text>
<text transform="translate(303.8,390.2) scale(1.01,1.075)" font-size="34" font-style="italic" stroke="#000" stroke-width="0.3">H (kA.m<tspan font-size="21" dy="-12">-1</tspan><tspan dy="12">)</tspan></text>
</g>
<polygon points="206.4,717 210,698.7 215.5,676.8 237.4,651.2 270.3,629.3 299.5,614.7 354.2,603.8 394.4,600 416.3,596.5 431,584.8 445.5,596.5 454.7,614.7 460.1,620.2 478.4,618.4 511.2,622 544.1,625.7 577,636.6 613.4,654.9 639,673.1 646.3,691.4 651.8,707 653.6,716.4 652,740 650,758.4 639,769.3 617,791.2 591.5,809.5 558.7,820.4 511.2,829.6 482,833.2 460.1,836.9 454.7,844.2 438.2,849.6 431,851.5 427.2,849.6 418.1,844.2 412.6,831.4 405.3,820.4 398,813.1 379.8,815 354.2,815 343.3,816.8 310.4,805.8 281.2,794.9 248.4,776.6 226.5,754.7 213.7,732.8 208.2,718.2" fill="#cccccc" stroke="#7a7a7a" stroke-width="2.6" stroke-linejoin="round"/>
<g fill="none" stroke="#808080" stroke-width="2.6" stroke-dasharray="9.8,15.1" stroke-linecap="round">
<circle cx="430.5" cy="718.2" r="216.5"/>
<circle cx="430.5" cy="718.2" r="108.2"/>
</g>
<g fill="none" stroke="#808080" stroke-width="2.6" stroke-dasharray="9.8,15.1" stroke-linecap="round">
<line x1="430.5" y1="718.2" x2="647" y2="718.2"/>
<line x1="430.5" y1="718.2" x2="214" y2="718.2"/>
<line x1="430.5" y1="718.2" x2="430.5" y2="934.7"/>
<line x1="430.5" y1="718.2" x2="430.5" y2="501.7"/>
</g>
<circle cx="430.5" cy="718.2" r="230.2" fill="none" stroke="#333" stroke-width="1.1"/>
<path d="M200.3,718.2h5.5M660.7,718.2h-5.5M430.5,488v5.5M430.5,948.4v-5.5" stroke="#333" stroke-width="1.1"/>
<path d="M593.3,555.4L590.8,557.9M267.7,555.4L270.2,557.9M267.7,881L270.2,878.5M593.3,881L590.8,878.5" stroke="#333" stroke-width="1"/>
<g stroke="#000" stroke-width="3" stroke-linecap="round" stroke-dasharray="7.8,17.7" fill="none">
<line x1="429.6" y1="718.2" x2="379.8" y2="950.4"/>
<line x1="429.6" y1="718.2" x2="477.5" y2="494.5" stroke-dashoffset="9.3"/>
</g>
<g fill="#0000ff"><circle cx="339.4" cy="718.2" r="6"/><circle cx="340.6" cy="701.7" r="6"/><circle cx="345.3" cy="686.7" r="6"/><circle cx="355.2" cy="674.1" r="6"/><circle cx="366.2" cy="663.9" r="6"/><circle cx="376.9" cy="655.2" r="6"/><circle cx="391.4" cy="650.5" r="6"/><circle cx="405.2" cy="648.5" r="6"/><circle cx="417.5" cy="648.5" r="6"/><circle cx="429.2" cy="649.2" r="6"/><circle cx="443.8" cy="651.4" r="6"/><circle cx="449.6" cy="655" r="6"/><circle cx="455" cy="659.5" r="6"/><circle cx="461.3" cy="663.8" r="6"/><circle cx="473.7" cy="666" r="6"/><circle cx="485.4" cy="671.1" r="6"/><circle cx="497.1" cy="678.8" r="6"/><circle cx="506.9" cy="689.9" r="6"/><circle cx="514.8" cy="703.3" r="6"/><circle cx="520.7" cy="717.5" r="6"/><circle cx="523.5" cy="734" r="6"/><circle cx="512.8" cy="749" r="6"/><circle cx="503.4" cy="759.6" r="6"/><circle cx="493.1" cy="770.3" r="6"/><circle cx="481.3" cy="778.2" r="6"/><circle cx="467.5" cy="782.1" r="6"/><circle cx="455.5" cy="786.8" r="6"/><circle cx="444.1" cy="780.7" r="6"/><circle cx="433.6" cy="778" r="6"/><circle cx="416.1" cy="783.3" r="6"/><circle cx="403.8" cy="781.5" r="6"/><circle cx="394.6" cy="770.3" r="6"/><circle cx="386.3" cy="768.4" r="6"/><circle cx="376.6" cy="762.3" r="6"/><circle cx="365.3" cy="755.3" r="6"/><circle cx="354.4" cy="745.8" r="6"/><circle cx="345.3" cy="732" r="6"/></g>
<path d="M314.9,717C314.7,710.4 315.7,704.1 317.4,697.8C319.2,691.5 321.8,685.1 325.3,679.4C328.7,673.6 333.1,668.3 337.3,663.5C341.6,658.8 345.9,654.4 350.7,650.7C355.5,646.9 360.8,643.8 366.2,641C371.5,638.2 376.7,635.9 382,633.7C387.3,631.5 392.5,629.6 398,628.9C403.4,628.2 409,628.9 414.4,631.4C419.7,633.9 424.8,638.2 427.8,641.4C430.9,644.6 431.8,646.5 432.8,648.2C433.8,649.9 434.8,651.4 435.5,653.7C436.3,656 436.7,659.1 437.1,661.4C437.5,663.8 437.7,665.2 438.1,667.6C438.5,669.9 438.9,673 439.9,673.5C440.9,674 442.3,671.8 443.8,670.2C445.3,668.6 446.7,667.7 448.2,666.7C449.7,665.7 451.1,664.8 452.6,663.7C454,662.6 455.5,661.3 456.7,660.5C457.9,659.6 458.9,659.2 460.2,658.6C461.6,658 463.3,657.2 467,656.8C470.7,656.3 476.4,656.2 481.9,656.9C487.4,657.7 492.6,659.4 498.1,661.6C503.5,663.7 509.2,666.4 514.1,669.9C519,673.3 523.2,677.7 527.9,682.5C532.7,687.3 537.9,692.5 541.6,698.4C545.2,704.4 547.1,710.9 548.4,717.6C549.6,724.3 550.2,731.2 548.5,737.9C546.9,744.6 543.1,751.1 538.9,756.9C534.7,762.6 530.1,767.4 525.2,771.7C520.4,776 515.2,779.6 509.8,783.1C504.4,786.6 498.8,789.8 493.3,792.5C487.9,795.1 482.6,797.1 477.5,798.8C472.4,800.5 467.5,802 463.7,802.8C459.9,803.7 457.2,804 454.5,803.4C451.7,802.8 448.7,801.4 445.8,800C442.9,798.7 440,797.6 437.4,796.2C434.8,794.9 432.4,793.5 430.8,791.6C429.2,789.7 428.3,787.3 427.6,785C426.8,782.7 426.3,780.3 425.8,777.7C425.4,775.1 425.1,772.2 424.7,769.9C424.2,767.5 423.7,765.8 422.2,765.3C420.8,764.9 418.4,765.7 416.1,766.6C413.8,767.5 411.4,768.4 409.1,769.4C406.7,770.5 404.4,771.6 402,772.6C399.7,773.7 397.3,774.5 395,775.5C392.7,776.6 390.3,777.7 387.6,778.4C384.9,779 381.9,779.2 378,778.1C374.2,777 369.6,774.6 364.7,772.1C359.8,769.7 354.5,767 348.8,763.9C343.1,760.8 336.9,757.3 331.6,752.7C326.4,748.2 322,742.7 319.2,736.5C316.4,730.4 315.1,723.5 314.9,717Z" fill="none" stroke="#000" stroke-width="0.9"/>
<g fill="#fff" stroke="#000" stroke-width="1.1"><circle cx="313.8" cy="716.7" r="5.8"/><circle cx="316.6" cy="697.8" r="5.8"/><circle cx="324.4" cy="678.8" r="5.8"/><circle cx="337.4" cy="663.1" r="5.8"/><circle cx="350.1" cy="650.1" r="5.8"/><circle cx="366.2" cy="640.6" r="5.8"/><circle cx="382" cy="633.5" r="5.8"/><circle cx="397.8" cy="627.6" r="5.8"/><circle cx="414.6" cy="629.5" r="5.8"/><circle cx="429.9" cy="642.6" r="5.8"/><circle cx="432.8" cy="648.5" r="5.8"/><circle cx="435.8" cy="652.8" r="5.8"/><circle cx="437.2" cy="662.3" r="5.8"/><circle cx="438" cy="666.7" r="5.8"/><circle cx="439.4" cy="676.2" r="5.8"/><circle cx="443.8" cy="669.6" r="5.8"/><circle cx="448.2" cy="666.7" r="5.8"/><circle cx="452.6" cy="663.8" r="5.8"/><circle cx="456.9" cy="660.1" r="5.8"/><circle cx="459.9" cy="658.7" r="5.8"/><circle cx="465" cy="656.5" r="5.8"/><circle cx="482.1" cy="656" r="5.8"/><circle cx="497.9" cy="661.1" r="5.8"/><circle cx="514.8" cy="669" r="5.8"/><circle cx="527.4" cy="682" r="5.8"/><circle cx="543.2" cy="697.8" r="5.8"/><circle cx="549.1" cy="717.5" r="5.8"/><circle cx="550.7" cy="738" r="5.8"/><circle cx="539.3" cy="757.7" r="5.8"/><circle cx="525.5" cy="772.3" r="5.8"/><circle cx="510.1" cy="783.3" r="5.8"/><circle cx="493.1" cy="793.1" r="5.8"/><circle cx="477.4" cy="799.1" r="5.8"/><circle cx="462.5" cy="803.4" r="5.8"/><circle cx="454.6" cy="804.3" r="5.8"/><circle cx="445.8" cy="799.9" r="5.8"/><circle cx="437.1" cy="796.4" r="5.8"/><circle cx="430.1" cy="792" r="5.8"/><circle cx="427.4" cy="785" r="5.8"/><circle cx="425.7" cy="778" r="5.8"/><circle cx="424.8" cy="769.3" r="5.8"/><circle cx="423.1" cy="764" r="5.8"/><circle cx="416.1" cy="766.6" r="5.8"/><circle cx="409.1" cy="769.3" r="5.8"/><circle cx="402" cy="772.8" r="5.8"/><circle cx="395" cy="775.4" r="5.8"/><circle cx="388" cy="778.9" r="5.8"/><circle cx="378.8" cy="779.3" r="5.8"/><circle cx="365" cy="772.3" r="5.8"/><circle cx="349.3" cy="764.4" r="5.8"/><circle cx="330.7" cy="753.7" r="5.8"/><circle cx="317.7" cy="737.2" r="5.8"/></g>
<line x1="130.4" y1="487.8" x2="130.4" y2="948.3" stroke="#444" stroke-width="1.5"/>
<path d="M130.4,501.1h-4.5M130.4,609.9h-4.5M130.4,718.2h-4.5M130.4,826.3h-4.5M130.4,934.4h-4.5" stroke="#444" stroke-width="1.5"/>
<g font-family="'Liberation Sans', Arial, sans-serif" fill="#000">
<text x="79.4" y="509.3" font-size="30.53" >1.6</text>
<text x="79.4" y="618.1" font-size="30.53" >0.8</text>
<text x="79.2" y="726.4" font-size="30.53" >0.0</text>
<text x="79.4" y="834.5" font-size="30.53" >0.8</text>
<text x="79.4" y="942.6" font-size="30.53" >1.6</text>
</g>
<g font-family="'Liberation Sans', Arial, sans-serif" fill="#000">
<text x="413.1" y="467.4" font-size="30.53" >90</text>
<text x="463.2" y="475.6" font-size="28.39" textLength="53.3" lengthAdjust="spacingAndGlyphs" >77.5</text>
<text x="144.4" y="726" font-size="30.39" textLength="49.3" lengthAdjust="spacingAndGlyphs" >180</text>
<text x="666.7" y="726.2" font-size="30.39" textLength="17.1" lengthAdjust="spacingAndGlyphs" >0</text>
<text x="404.5" y="981" font-size="29.68" textLength="50.6" lengthAdjust="spacingAndGlyphs" >270</text>
<text x="5.3" y="486.7" font-size="44.18" textLength="56.6" lengthAdjust="spacingAndGlyphs" >(b)</text>
<text transform="translate(34.6,802.5) rotate(-90)" font-size="36" font-style="italic"><tspan font-size="38.5">H</tspan><tspan font-size="25" dy="5.5" dx="-0.5">C</tspan><tspan dy="-5.5" dx="1.5"> (kA.m</tspan><tspan font-size="21" dy="-12">-1</tspan><tspan dy="12">)</tspan></text>
</g>
<rect x="116.5" y="990.8" width="188.2" height="75.3" fill="#fff" stroke="#333" stroke-width="1.2"/>
<line x1="130" y1="1012.1" x2="197.6" y2="1012.1" stroke="#0000ff" stroke-width="1"/>
<line x1="130" y1="1049.2" x2="197.6" y2="1049.2" stroke="#333" stroke-width="1"/>
<circle cx="163.4" cy="1012.1" r="14.1" fill="#0000ff"/>
<circle cx="163.4" cy="1049.2" r="13.2" fill="#fff" stroke="#000" stroke-width="1.6"/>
<g font-family="'Liberation Sans', Arial, sans-serif" fill="#000">
<text x="204.7" y="1022.8" font-size="29.54" textLength="93.2" lengthAdjust="spacingAndGlyphs" >410nm</text>
<text x="205.6" y="1058.9" font-size="29.40" >OFF</text>
</g>
<polygon points="233.3,1351.7 235,1320.2 242,1292.1 252.6,1274.6 266.6,1257.1 284.1,1239.6 305.1,1232.6 340.2,1230.8 382.2,1232.6 410.2,1236 420.3,1229.4 427.3,1222.4 436,1222 446.6,1239 450,1242.6 453.6,1261 462.3,1260 471,1258.3 477.2,1254.8 498.7,1252.1 525.2,1250.2 551.8,1250.2 574.6,1257.8 597.3,1274.9 612.5,1293.9 622,1324.2 625.5,1350.8 629.6,1378 623.9,1408.3 608.7,1438.7 589.8,1457.6 567,1470.9 536.6,1478.5 506.3,1480.4 474.4,1474.7 464.7,1471.5 450.3,1470 440.7,1472.3 429.4,1474.7 425.4,1476.4 423,1471.5 418.2,1461.9 408.5,1450.7 404.5,1441 400.5,1437.8 386,1444.2 375.2,1448.6 354.2,1454.5 333.1,1454.5 317.7,1451.5 300.6,1445 281.6,1433.5 266.4,1422.5 255,1411 246.5,1399.5 238.5,1378.5" fill="#cccccc" stroke="#c4c4c4" stroke-width="1" stroke-linejoin="round"/>
<g fill="none" stroke="#808080" stroke-width="2.6" stroke-dasharray="9.8,15.1" stroke-linecap="round">
<circle cx="430.5" cy="1351" r="223.6"/>
<circle cx="430.5" cy="1351" r="111.8"/>
</g>
<g fill="none" stroke="#808080" stroke-width="2.6" stroke-dasharray="9.8,15.1" stroke-linecap="round">
<line x1="430.5" y1="1351" x2="654.1" y2="1351"/>
<line x1="430.5" y1="1351" x2="206.9" y2="1351"/>
<line x1="430.5" y1="1351" x2="430.5" y2="1574.6"/>
<line x1="430.5" y1="1351" x2="430.5" y2="1127.4"/>
</g>
<circle cx="430.5" cy="1351" r="230.3" fill="none" stroke="#333" stroke-width="1.1"/>
<path d="M200.2,1351h5.5M660.8,1351h-5.5M430.5,1120.7v5.5M430.5,1581.3v-5.5" stroke="#333" stroke-width="1.1"/>
<path d="M593.3,1188.2L590.9,1190.6M267.7,1188.2L270.1,1190.6M267.7,1513.8L270.1,1511.4M593.3,1513.8L590.9,1511.4" stroke="#333" stroke-width="1"/>
<g stroke="#000" stroke-width="3" stroke-linecap="round" stroke-dasharray="7.8,17.7" fill="none">
<line x1="431.7" y1="1350" x2="382.6" y2="1581"/>
<line x1="431.7" y1="1350" x2="484" y2="1104" stroke-dashoffset="9.3"/>
</g>
<path d="M255.8,1320.3C255.4,1309.6 253.6,1298.2 256.8,1288.5C260.1,1278.7 268.2,1270.5 273.6,1260.6C279,1250.6 281.5,1239 293,1229.5C304.5,1219.9 325,1212.6 341.3,1211.1C357.7,1209.6 369.9,1214.1 380.1,1216C390.4,1217.9 398.5,1217.4 406.4,1216.3C414.3,1215.3 421.9,1213.7 426.7,1214.3C431.5,1214.9 433.5,1217.6 435,1221C436.4,1224.4 437.4,1228.5 438.4,1230.6C439.4,1232.8 440.6,1232.9 442.1,1231.6C443.6,1230.3 445.5,1227.6 447.5,1226.5C449.5,1225.5 451.5,1226.1 452.9,1228.1C454.2,1230 454.7,1233.2 455.3,1234.9C455.8,1236.6 456.4,1236.7 457.5,1235.6C458.7,1234.4 460.5,1231.9 462.7,1229.5C464.9,1227.1 467.6,1224.8 468.9,1226.4C470.2,1227.9 470.2,1233.4 471.5,1235.8C472.7,1238.2 475.3,1237.5 477.5,1239.1C479.7,1240.7 481.6,1244.5 483.8,1246.3C486,1248.1 488.6,1247.8 495.2,1246.5C501.8,1245.1 512.6,1242.5 521.7,1243.6C530.9,1244.7 538.5,1249.3 547.2,1253.8C555.8,1258.2 565.6,1262.3 570.2,1269.7C574.8,1277.1 574.3,1287.8 580.5,1296.4C586.7,1305.1 599.6,1311.8 606.8,1320.5C614,1329.2 615.6,1339.9 615.7,1350.8C615.8,1361.6 614.6,1372.6 609.8,1382.4C605.1,1392.1 596.8,1400.6 592,1409.9C587.1,1419.2 585.6,1429.3 581.7,1438.5C577.8,1447.8 571.4,1456.1 565.1,1464.4C558.8,1472.7 552.4,1480.9 543.4,1485.3C534.3,1489.7 522.6,1490.4 512.5,1492.4C502.3,1494.4 493.9,1497.9 487.7,1499.1C481.6,1500.4 477.8,1499.5 474.9,1499.1C472,1498.7 470,1498.7 468.1,1498.5C466.2,1498.4 464.4,1497.9 463.2,1497.7C462,1497.4 461.3,1497.3 459.8,1494.6C458.2,1491.9 455.6,1486.5 453.6,1484.7C451.6,1482.8 450.1,1484.5 448.2,1483.4C446.3,1482.3 444,1478.5 443,1477.9C441.9,1477.4 442.1,1480.1 440.8,1482.4C439.6,1484.8 436.9,1486.8 434.3,1488.3C431.7,1489.8 429.1,1490.8 427,1491.1C424.9,1491.5 423.1,1491.1 421.6,1491.5C420,1491.9 418.6,1493.1 417.6,1492.8C416.5,1492.6 415.9,1491 415.1,1489.1C414.4,1487.3 413.6,1485.1 412.8,1483.6C411.9,1482.1 411.1,1481.1 409.9,1478.2C408.8,1475.3 407.4,1470.3 405.2,1468.9C402.9,1467.5 399.8,1469.7 397.5,1470.8C395.1,1472 393.6,1472.2 392.3,1471.2C391.1,1470.3 390.1,1468.2 387.3,1470.8C384.5,1473.5 379.9,1480.8 377.3,1481.9C374.8,1482.9 374.5,1477.7 374.5,1472.8C374.5,1468 374.8,1463.5 372.8,1463.2C370.8,1462.8 366.3,1466.6 364.3,1466.9C362.3,1467.3 362.6,1464.3 362.2,1462.1C361.8,1460 360.6,1458.7 359.8,1457.5C359,1456.3 358.6,1455.2 354.7,1458.1C350.8,1461 343.4,1468 338.9,1470.6C334.5,1473.1 332.9,1471.4 330.4,1466.1C327.9,1460.9 324.4,1452.1 318.6,1445.2C312.7,1438.4 304.6,1433.3 294.3,1428.2C284.1,1423.2 271.9,1418 266.7,1410C261.6,1402 263.5,1391.2 262.6,1380.9C261.8,1370.6 258,1360.9 256.6,1351C255.2,1341.1 256.2,1331 255.8,1320.3Z" fill="none" stroke="#0000ff" stroke-width="0.9"/>
<g fill="#0000ff"><circle cx="257.1" cy="1320.9" r="6.4"/><circle cx="251.9" cy="1286.9" r="6.4"/><circle cx="276.4" cy="1262.3" r="6.4"/><circle cx="284.1" cy="1227.3" r="6.4"/><circle cx="345.4" cy="1205.2" r="6.4"/><circle cx="382.2" cy="1218.5" r="6.4"/><circle cx="406.7" cy="1216.8" r="6.4"/><circle cx="429.5" cy="1212.2" r="6.4"/><circle cx="435.5" cy="1220.3" r="6.4"/><circle cx="438.3" cy="1232.6" r="6.4"/><circle cx="441.7" cy="1233.1" r="6.4"/><circle cx="447.4" cy="1224.8" r="6.4"/><circle cx="453.6" cy="1226.8" r="6.4"/><circle cx="455.3" cy="1236.4" r="6.4"/><circle cx="456.9" cy="1236.9" r="6.4"/><circle cx="462.3" cy="1229.4" r="6.4"/><circle cx="470.2" cy="1222.5" r="6.4"/><circle cx="470.2" cy="1238.8" r="6.4"/><circle cx="477.8" cy="1236.9" r="6.4"/><circle cx="483.5" cy="1248.3" r="6.4"/><circle cx="491.1" cy="1247.6" r="6.4"/><circle cx="523.3" cy="1240" r="6.4"/><circle cx="546.1" cy="1254" r="6.4"/><circle cx="575.3" cy="1266.5" r="6.4"/><circle cx="573.8" cy="1298.4" r="6.4"/><circle cx="612.5" cy="1318.5" r="6.4"/><circle cx="617.1" cy="1350.6" r="6.4"/><circle cx="613.3" cy="1383.6" r="6.4"/><circle cx="588.6" cy="1409.1" r="6.4"/><circle cx="584.1" cy="1439.4" r="6.4"/><circle cx="565.1" cy="1464.5" r="6.4"/><circle cx="546.1" cy="1489.1" r="6.4"/><circle cx="510.8" cy="1491" r="6.4"/><circle cx="485.4" cy="1501.3" r="6.4"/><circle cx="474" cy="1498.6" r="6.4"/><circle cx="468" cy="1498.8" r="6.4"/><circle cx="462.6" cy="1497.5" r="6.4"/><circle cx="460.7" cy="1497.2" r="6.4"/><circle cx="453.1" cy="1481.2" r="6.4"/><circle cx="448.6" cy="1486.1" r="6.4"/><circle cx="441.7" cy="1474.7" r="6.4"/><circle cx="442.3" cy="1482.8" r="6.4"/><circle cx="434.2" cy="1488.8" r="6.4"/><circle cx="426.6" cy="1491.8" r="6.4"/><circle cx="421.4" cy="1490.8" r="6.4"/><circle cx="417.2" cy="1494.2" r="6.4"/><circle cx="415.2" cy="1489.4" r="6.4"/><circle cx="412.8" cy="1483" r="6.4"/><circle cx="410.2" cy="1480.2" r="6.4"/><circle cx="406" cy="1465.4" r="6.4"/><circle cx="396.7" cy="1471.8" r="6.4"/><circle cx="392" cy="1472.4" r="6.4"/><circle cx="389.2" cy="1466.1" r="6.4"/><circle cx="375.2" cy="1488.2" r="6.4"/><circle cx="374.1" cy="1472.4" r="6.4"/><circle cx="375.2" cy="1459.1" r="6.4"/><circle cx="361.9" cy="1470.3" r="6.4"/><circle cx="363" cy="1461.3" r="6.4"/><circle cx="359.4" cy="1457.4" r="6.4"/><circle cx="358.2" cy="1454.1" r="6.4"/><circle cx="336" cy="1474.9" r="6.4"/><circle cx="331.4" cy="1469.6" r="6.4"/><circle cx="320.9" cy="1443.4" r="6.4"/><circle cx="296.4" cy="1428.3" r="6.4"/><circle cx="259.6" cy="1412.9" r="6.4"/><circle cx="265.5" cy="1380.3" r="6.4"/><circle cx="254.3" cy="1351.2" r="6.4"/></g>
<path d="M226.9,1350.6C224.2,1339 224.9,1326.9 227.8,1315.5C230.7,1304 235.9,1293.2 240.9,1282.4C246,1271.6 251.1,1260.8 258.4,1252.1C265.8,1243.3 275.4,1236.6 284.5,1229.5C293.6,1222.5 302.2,1215.3 312.1,1210.8C322,1206.3 333.4,1204.5 344.7,1204.6C356,1204.8 367.4,1206.7 378.2,1212C389,1217.2 399.2,1225.8 407.8,1233.1C416.4,1240.4 423.3,1246.4 427.4,1251.6C431.5,1256.8 432.9,1261.1 433.6,1263C434.4,1265 434.6,1264.5 435.2,1269C435.7,1273.4 436.7,1282.8 437.3,1289.2C437.8,1295.6 438.1,1299.1 438.8,1299.4C439.4,1299.7 440.6,1296.8 442.4,1295C444.2,1293.3 446.8,1292.6 449.3,1291C451.8,1289.5 454.4,1286.9 457.2,1284.1C460.1,1281.2 463.2,1278.1 466.4,1275.9C469.6,1273.6 472.7,1272.4 480.2,1268.9C487.7,1265.5 499.4,1260 511.1,1257.1C522.8,1254.3 534.5,1254.1 544.5,1256.7C554.6,1259.2 563,1264.4 569.6,1271C576.1,1277.7 580.6,1285.8 586.2,1294.2C591.8,1302.5 598.3,1311.1 605.3,1320.6C612.2,1330.1 619.6,1340.4 624,1351.5C628.4,1362.6 630,1374.5 629,1386.1C628,1397.7 624.4,1409.1 618.6,1419.2C612.8,1429.3 604.7,1438.2 597.1,1446.9C589.5,1455.6 582.4,1464.2 572.9,1469.9C563.4,1475.6 551.6,1478.4 540.1,1480.1C528.6,1481.7 517.4,1482.2 506.8,1481.6C496.2,1480.9 486,1479.2 480,1478.9C474,1478.7 472.1,1479.9 469.6,1477.6C467,1475.2 463.9,1469.3 461,1465.6C458.2,1462 455.6,1460.8 453,1461C450.3,1461.2 447.6,1462.8 445.1,1461C442.5,1459.1 440.3,1453.6 438.2,1450.3C436.1,1446.9 434.2,1445.7 432.6,1444.4C431,1443.1 429.8,1441.9 428.3,1440.8C426.8,1439.7 425.2,1438.8 423.9,1436.6C422.6,1434.4 421.8,1430.8 420.7,1428.1C419.6,1425.4 418.4,1423.5 416.8,1421.3C415.2,1419.1 413.3,1416.5 411.4,1415.9C409.5,1415.3 407.6,1416.5 404.8,1419.1C402,1421.6 398.2,1425.5 396.4,1426C394.5,1426.6 394.5,1424 392.9,1424.1C391.2,1424.3 388,1427.4 384.2,1430.9C380.4,1434.4 376,1438.3 373.9,1439C371.7,1439.7 371.7,1437.2 369.7,1437.5C367.6,1437.9 363.5,1441.1 359.7,1443.5C355.9,1445.8 352.4,1447.2 347,1446.3C341.5,1445.3 334.2,1442.1 323.9,1439.4C313.7,1436.8 300.7,1434.9 285.7,1432C270.7,1429.1 253.7,1425.4 246.1,1417.3C238.5,1409.2 240.3,1396.9 238,1385.1C235.8,1373.3 229.7,1362.2 226.9,1350.6Z" fill="none" stroke="#000" stroke-width="0.9"/>
<g fill="#fff" stroke="#000" stroke-width="1.1"><circle cx="223.5" cy="1351" r="6.3"/><circle cx="225.6" cy="1314.9" r="6.3"/><circle cx="241" cy="1282.3" r="6.3"/><circle cx="256.1" cy="1250.1" r="6.3"/><circle cx="285.1" cy="1229.8" r="6.3"/><circle cx="310.7" cy="1208" r="6.3"/><circle cx="344.7" cy="1202.8" r="6.3"/><circle cx="378.7" cy="1208.7" r="6.3"/><circle cx="409.5" cy="1234.3" r="6.3"/><circle cx="430.2" cy="1252.5" r="6.3"/><circle cx="434.2" cy="1265.4" r="6.3"/><circle cx="434.8" cy="1264.1" r="6.3"/><circle cx="437.6" cy="1292.1" r="6.3"/><circle cx="438.3" cy="1302.6" r="6.3"/><circle cx="441.7" cy="1293.9" r="6.3"/><circle cx="449.3" cy="1292" r="6.3"/><circle cx="456.9" cy="1284.4" r="6.3"/><circle cx="466.4" cy="1274.9" r="6.3"/><circle cx="475.9" cy="1271.1" r="6.3"/><circle cx="511.2" cy="1254.4" r="6.3"/><circle cx="546.1" cy="1254" r="6.3"/><circle cx="571.5" cy="1269.6" r="6.3"/><circle cx="585.2" cy="1293.9" r="6.3"/><circle cx="604.9" cy="1319.7" r="6.3"/><circle cx="626.9" cy="1350.8" r="6.3"/><circle cx="631.5" cy="1386.3" r="6.3"/><circle cx="620.9" cy="1420.5" r="6.3"/><circle cx="596.6" cy="1447" r="6.3"/><circle cx="575.3" cy="1472.8" r="6.3"/><circle cx="539.7" cy="1481.2" r="6.3"/><circle cx="506.3" cy="1482.7" r="6.3"/><circle cx="475.9" cy="1477.4" r="6.3"/><circle cx="470.2" cy="1481.2" r="6.3"/><circle cx="460.7" cy="1463.3" r="6.3"/><circle cx="453.1" cy="1459.5" r="6.3"/><circle cx="444.8" cy="1464.5" r="6.3"/><circle cx="438" cy="1448.2" r="6.3"/><circle cx="432.3" cy="1444.4" r="6.3"/><circle cx="428.5" cy="1440.6" r="6.3"/><circle cx="423.5" cy="1437.9" r="6.3"/><circle cx="420.9" cy="1427.3" r="6.3"/><circle cx="417.1" cy="1421.6" r="6.3"/><circle cx="411.4" cy="1414" r="6.3"/><circle cx="405.7" cy="1417.8" r="6.3"/><circle cx="394.5" cy="1429.3" r="6.3"/><circle cx="394.5" cy="1421.3" r="6.3"/><circle cx="384.7" cy="1430.4" r="6.3"/><circle cx="371.7" cy="1442.3" r="6.3"/><circle cx="371.7" cy="1434.6" r="6.3"/><circle cx="359.4" cy="1444.4" r="6.3"/><circle cx="348.9" cy="1448.6" r="6.3"/><circle cx="326.8" cy="1438.8" r="6.3"/><circle cx="287.6" cy="1432.9" r="6.3"/><circle cx="236.8" cy="1421.6" r="6.3"/><circle cx="242" cy="1384.5" r="6.3"/></g>
<line x1="130.4" y1="1121.6" x2="130.4" y2="1582.2" stroke="#444" stroke-width="1.5"/>
<path d="M130.4,1127.6h-4.5M130.4,1239h-4.5M130.4,1351h-4.5M130.4,1463.1h-4.5M130.4,1574.8h-4.5" stroke="#444" stroke-width="1.5"/>
<g font-family="'Liberation Sans', Arial, sans-serif" fill="#000">
<text x="79.2" y="1135.8" font-size="30.53" >1.0</text>
<text x="79.3" y="1247.2" font-size="30.53" >0.5</text>
<text x="79.2" y="1359.2" font-size="30.53" >0.0</text>
<text x="79.3" y="1471.3" font-size="30.53" >0.5</text>
<text x="79.2" y="1583" font-size="30.53" >1.0</text>
</g>
<g font-family="'Liberation Sans', Arial, sans-serif" fill="#000">
<text x="413.1" y="1100.1" font-size="30.39" textLength="34.3" lengthAdjust="spacingAndGlyphs" >90</text>
<text x="464.9" y="1111.5" font-size="28.96" textLength="53.3" lengthAdjust="spacingAndGlyphs" >77.5</text>
<text x="144.4" y="1359.4" font-size="30.25" textLength="49.3" lengthAdjust="spacingAndGlyphs" >180</text>
<text x="667" y="1359" font-size="30.11" >0</text>
<text x="404.5" y="1614.8" font-size="30.25" >270</text>
<text x="7.8" y="1111.4" font-size="43.86" textLength="54.4" lengthAdjust="spacingAndGlyphs" >(c)</text>
<text transform="translate(36.6,1374) rotate(-90)" font-size="37.5" font-style="italic">M<tspan font-size="24.5" dy="14.4">R</tspan></text>
<text transform="translate(15.8,1337) rotate(-90)" font-size="24.5" font-style="italic">n</text>
</g>
</svg>
</body></html>
